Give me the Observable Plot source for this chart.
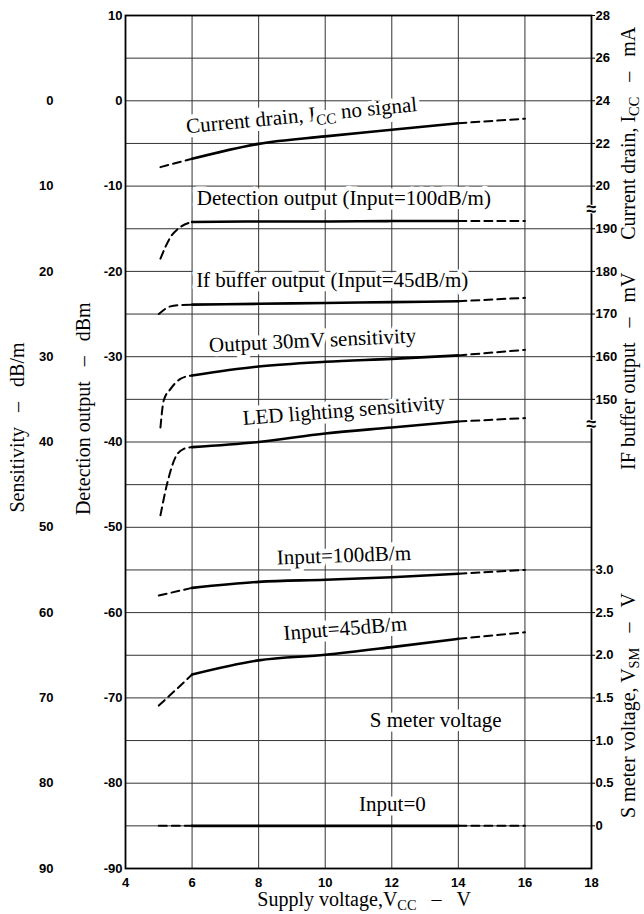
<!DOCTYPE html>
<html><head><meta charset="utf-8">
<script src="https://cdn.jsdelivr.net/npm/d3@7"></script>
<script src="https://cdn.jsdelivr.net/npm/@observablehq/plot@0.6"></script>
<style>
html,body{margin:0;padding:0;background:#fff;}
#chart{width:644px;height:914px;}
</style>
</head><body><div id="chart"></div>
<script>
// ---------- axis ticks ----------
const voltageTicks = [4, 6, 8, 10, 12, 14, 16, 18];                 // Supply voltage, V
const detectionTicks = [10, 0, -10, -20, -30, -40, -50, -60, -70, -80, -90]; // dBm
const gridLevels = [10, 5, 0, -5, -10, -15, -20, -25, -30, -35, -40, -45, -50, -55, -60, -65, -70, -75, -80, -85, -90];
const sensitivityTicks = [0, 10, 20, 30, 40, 50, 60, 70, 80, 90];    // dB/m
const currentTicks = [28, 26, 24, 22, 20];                          // mA
const ifBufferTicks = [190, 180, 170, 160, 150];                    // mV
const sMeterTicks = [3.0, 2.5, 2.0, 1.5, 1.0, 0.5, 0];              // V

// ---------- series (x = supply voltage V) ----------
// Current drain, Icc no signal (mA)
const currentX = [5.05, 6, 8, 10, 12, 14, 16];
const currentMA = [20.89, 21.28, 21.98, 22.33, 22.64, 22.95, 23.16];
// Detection output, input 100 dB/m (dBm)
const detectX = [5.05, 5.35, 5.65, 6, 8, 10, 12, 14, 16];
const detectDBm = [-18.5, -16.0, -14.8, -14.2, -14.15, -14.15, -14.1, -14.1, -14.1];
// IF buffer output, input 45 dB/m (mV)
const ifX = [5.0, 5.35, 5.65, 6, 8, 10, 12, 14, 16];
const ifMV = [170.0, 171.8, 172.1, 172.2, 172.4, 172.6, 172.8, 173.0, 173.8];
// Output 30 mV sensitivity (dB/m)
const out30X = [5.05, 5.15, 5.35, 5.65, 6, 8, 10, 12, 14, 16];
const out30Sens = [38.3, 35.1, 33.8, 32.6, 32.2, 31.15, 30.6, 30.25, 29.85, 29.2];
// LED lighting sensitivity (dB/m)
const ledX = [5.05, 5.25, 5.5, 5.75, 6, 8, 10, 12, 14, 16];
const ledSens = [48.6, 44.9, 41.8, 40.8, 40.6, 40.0, 39.0, 38.3, 37.6, 37.2];
// S meter voltage, input 100 dB/m (V)
const sm100X = [5.0, 6, 8, 10, 12, 14, 16];
const sm100V = [2.70, 2.79, 2.86, 2.885, 2.915, 2.955, 3.0];
// S meter voltage, input 45 dB/m (V)
const sm45X = [5.0, 5.5, 6, 8, 10, 12, 14, 16];
const sm45V = [1.41, 1.59, 1.774, 1.94, 2.005, 2.095, 2.193, 2.27];
// S meter voltage, input 0 (V)
const sm0X = [5.0, 6, 8, 10, 12, 14, 16];
const sm0V = [0, 0, 0, 0, 0, 0, 0];

// ---------- axis alignment (all curves share the dBm grid) ----------
const fromMA = mA => (mA - 24) / 0.4;          // 28 mA ↔ +10 dBm
const fromMV = mV => (mV - 220) / 2;           // 190 mV ↔ -15 dBm
const fromVSM = v => (v - 3.0) / 0.1 - 55;     // 3.0 V ↔ -55 dBm
const fromSens = s => -s;                      // 0 dB/m ↔ 0 dBm

const series = [
  {name: "current", xs: currentX, ys: currentMA.map(fromMA)},
  {name: "detect", xs: detectX, ys: detectDBm},
  {name: "ifbuf", xs: ifX, ys: ifMV.map(fromMV)},
  {name: "out30", xs: out30X, ys: out30Sens.map(fromSens)},
  {name: "led", xs: ledX, ys: ledSens.map(fromSens)},
  {name: "sm100", xs: sm100X, ys: sm100V.map(fromVSM)},
  {name: "sm45", xs: sm45X, ys: sm45V.map(fromVSM)},
  {name: "sm0", xs: sm0X, ys: sm0V.map(fromVSM)}
];
const points = series.flatMap(s => s.xs.map((x, i) => ({series: s.name, x, y: s.ys[i]})));
const dashLeft = points.filter(d => d.x <= 6);
const solid = points.filter(d => d.x >= 6 && d.x <= 14);
const dashRight = points.filter(d => d.x >= 14);

// right-hand axis labels
const key = v => Math.round(v * 100) / 100;
const rightLabels = new Map([
  ...currentTicks.map(t => [key(fromMA(t)), String(t)]),
  ...ifBufferTicks.map(t => [key(fromMV(t)), String(t)]),
  ...sMeterTicks.map(t => [key(fromVSM(t)), t === 0 ? "0" : t.toFixed(1)])
]);
const rightPositions = [...currentTicks.map(fromMA), ...ifBufferTicks.map(fromMV), ...sMeterTicks.map(fromVSM)];

// curve annotations
const curveLabels = [
  {text: "Current drain, I_{CC} no signal", x: 9.29, y: -1.72, rotate: -5.5},
  {text: "Detection output (Input=100dB/m)", x: 10.56, y: -11.45, rotate: 0},
  {text: "If buffer output (Input=45dB/m)", x: 10.21, y: -21.07, rotate: 0},
  {text: "Output 30mV sensitivity", x: 9.62, y: -28.1, rotate: -2.7},
  {text: "LED lighting sensitivity", x: 10.56, y: -36.3, rotate: -4.5},
  {text: "Input=100dB/m", x: 10.56, y: -53.3, rotate: -2},
  {text: "Input=45dB/m", x: 10.6, y: -61.86, rotate: -4.5},
  {text: "S meter voltage", x: 13.32, y: -72.65, rotate: 0},
  {text: "Input=0", x: 12.02, y: -82.5, rotate: 0}
];
const breakMarks = [-12.7, -37.9];
const sp = "\u00a0\u00a0\u00a0";

const serif = "'Liberation Serif', 'Times New Roman', serif";
const tickFont = {fontFamily: "'Liberation Sans', Arial, sans-serif", fontWeight: "bold", fontSize: 13};
const titleStyle = {fontFamily: serif, fontSize: 20, rotate: -90, textAnchor: "middle", lineAnchor: "middle", fill: "black"};

const chart = Plot.plot({
  width: 644,
  height: 914,
  marginLeft: 125,
  marginRight: 53,
  marginTop: 15,
  marginBottom: 46,
  style: {fontFamily: "'Liberation Sans', sans-serif", fontSize: "13px", background: "white", color: "black", overflow: "visible"},
  x: {domain: [4, 18], axis: null},
  y: {domain: [-90, 10], axis: null},
  marks: [
    Plot.gridX(voltageTicks, {stroke: "#333", strokeOpacity: 1, strokeWidth: 1}),
    Plot.gridY(gridLevels, {stroke: "#333", strokeOpacity: 1, strokeWidth: 1}),
    Plot.text(curveLabels, {x: "x", y: "y", text: "text", rotate: "rotate", fontFamily: serif, fontSize: 21,
      fill: "black", stroke: "white", strokeWidth: 9, paintOrder: "stroke", strokeLinejoin: "round", lineAnchor: "middle"}),
    Plot.line(dashLeft, {x: "x", y: "y", z: "series", curve: "monotone-x", stroke: "black", strokeWidth: 2, strokeDasharray: "8,5"}),
    Plot.line(dashRight, {x: "x", y: "y", z: "series", curve: "monotone-x", stroke: "black", strokeWidth: 2, strokeDasharray: "8,5"}),
    Plot.line(solid, {x: "x", y: "y", z: "series", curve: "monotone-x", stroke: "black", strokeWidth: 2.6}),
    Plot.frame({stroke: "black", strokeWidth: 1.8}),
    Plot.axisX({ticks: voltageTicks, tickSize: 0, tickPadding: 9, label: null, ...tickFont}),
    Plot.axisY({anchor: "left", ticks: detectionTicks, tickFormat: d => String(d), tickSize: 0, tickPadding: 3, label: null, ...tickFont}),
    Plot.axisY({anchor: "left", ticks: sensitivityTicks.map(fromSens), tickFormat: d => String(Math.abs(d)), tickSize: 0, tickPadding: 72, label: null, ...tickFont}),
    Plot.axisY({anchor: "right", ticks: rightPositions, tickFormat: d => rightLabels.get(key(d)), tickSize: 3, tickPadding: 1, label: null, ...tickFont}),
    Plot.text(breakMarks, {y: d => d, text: () => "≈", frameAnchor: "right", textAnchor: "middle", lineAnchor: "middle", fontSize: 18, fontWeight: "bold",
      fill: "black", stroke: "white", strokeWidth: 2, paintOrder: "stroke"}),
    // axis titles
    Plot.text(["Sensitivity" + sp + "–" + sp + "dB/m"], {y: () => -38.3, text: d => d, frameAnchor: "left", dx: -108, ...titleStyle}),
    Plot.text(["Detection output" + sp + "–" + sp + "dBm"], {y: () => -36.1, text: d => d, frameAnchor: "left", dx: -42, ...titleStyle}),
    Plot.text(["Current drain, I_{CC}" + sp + "–" + sp + "mA"], {y: () => -3.8, text: d => d, frameAnchor: "right", dx: 37, ...titleStyle}),
    Plot.text(["IF buffer output" + sp + "–" + sp + "mV"], {y: () => -31.7, text: d => d, frameAnchor: "right", dx: 37, ...titleStyle}),
    Plot.text(["S meter voltage, V_{SM}" + sp + "–" + sp + "V"], {y: () => -70.9, text: d => d, frameAnchor: "right", dx: 37, ...titleStyle}),
    Plot.text(["Supply voltage,V_{CC}" + sp + "–" + sp + "V"], {x: () => 11.17, text: d => d, frameAnchor: "bottom", dy: 31,
      fontFamily: serif, fontSize: 20, textAnchor: "middle", lineAnchor: "middle", fill: "black"})
  ]
});

document.getElementById("chart").appendChild(chart);

// render I_{CC}-style subscripts as real tspans
d3.select(chart).selectAll("text").each(function() {
  const t = this.textContent;
  if (!t.includes("_{")) return;
  const fs = parseFloat(getComputedStyle(this).fontSize) || 21;
  const parts = t.split(/(_\{[^}]*\})/);
  const sel = d3.select(this);
  sel.text(null);
  let shifted = false;
  for (const p of parts) {
    if (!p) continue;
    if (p.startsWith("_{")) {
      sel.append("tspan").attr("font-size", fs * 0.72).attr("dy", fs * 0.2).text(p.slice(2, -1));
      shifted = true;
    } else {
      const ts = sel.append("tspan").text(p);
      if (shifted) { ts.attr("dy", -fs * 0.2); shifted = false; }
    }
  }
});
</script>
</body></html>
